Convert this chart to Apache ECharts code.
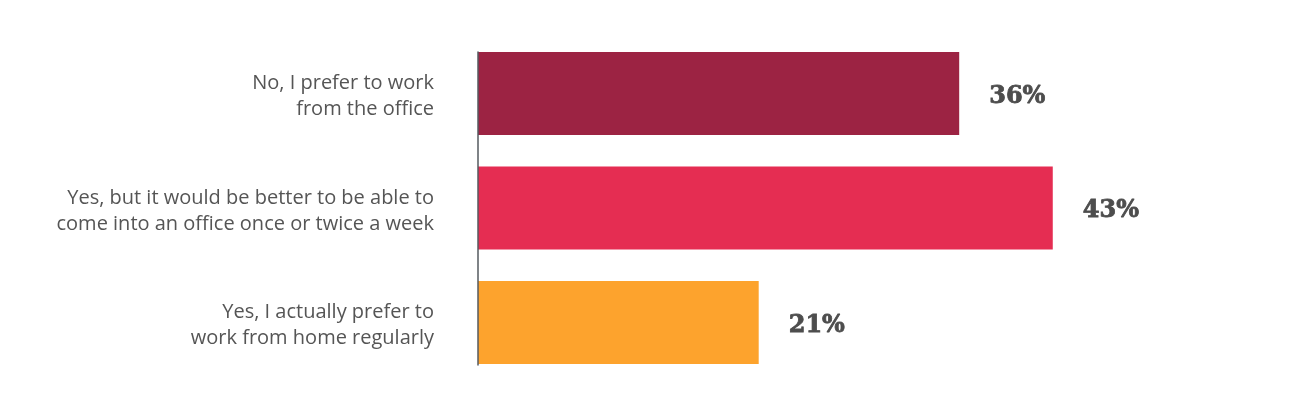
<!DOCTYPE html>
<html>
<head>
<meta charset="utf-8">
<script src="https://cdn.jsdelivr.net/npm/echarts@6/dist/echarts.min.js"></script>
<style>
  html, body { margin: 0; padding: 0; background: #fff; }
  #chart { width: 1292px; height: 417px; }
</style>
</head>
<body>
<div id="chart"></div>
<script>
// survey answers, top to bottom
const categories = [
    'No, I prefer to work\nfrom the office',
    'Yes, but it would be better to be able to\ncome into an office once or twice a week',
    'Yes, I actually prefer to\nwork from home regularly'
];
const values = [36, 43, 21];
const colors = ['#9C2343', '#E52D52', '#FDA32D'];

const chart = echarts.init(document.getElementById('chart'));

const option = {
    animation: false,
    grid: [
        // bars: one band per answer
        { left: 478, top: 36.25, width: 802, height: 343.5 },
        // only carries the vertical axis line, which runs from first bar top to last bar bottom
        { left: 478, top: 52, width: 802, height: 313 },
        // answer labels, set a touch lower than the bar centres
        { left: 478, top: 39.25, width: 802, height: 343.5 }
    ],
    xAxis: [
        { gridIndex: 0, type: 'value', min: 0, max: 60, show: false },
        { gridIndex: 1, type: 'value', min: 0, max: 60, show: false },
        { gridIndex: 2, type: 'value', min: 0, max: 60, show: false }
    ],
    yAxis: [
        {
            gridIndex: 0,
            type: 'category',
            data: categories,
            inverse: true,
            show: false
        },
        {
            gridIndex: 1,
            type: 'value',
            min: 0, max: 1,
            z: 5,
            axisLabel: { show: false },
            axisTick: { show: false },
            splitLine: { show: false },
            axisLine: { show: true, onZero: false, lineStyle: { color: '#555a5f', width: 1.5 } }
        },
        {
            gridIndex: 2,
            type: 'category',
            data: categories,
            inverse: true,
            axisLine: { show: false },
            axisTick: { show: false },
            axisLabel: {
                margin: 44,
                color: '#555',
                fontFamily: 'Open Sans',
                fontSize: 20,
                lineHeight: 26
            }
        }
    ],
    series: [{
        type: 'bar',
        xAxisIndex: 0,
        yAxisIndex: 0,
        barWidth: 83,
        data: values.map((v, i) => ({
            value: v,
            itemStyle: { color: colors[i] }
        })),
        label: {
            show: true,
            position: 'right',
            distance: 30,
            offset: [0, 3],
            formatter: '{c}%',
            color: '#4d4d4d',
            fontFamily: 'DejaVu Serif',
            fontWeight: 'bold',
            fontSize: 24,
            textBorderColor: '#4d4d4d',
            textBorderWidth: 0.8
        }
    }]
};

chart.setOption(option);
</script>
</body>
</html>
